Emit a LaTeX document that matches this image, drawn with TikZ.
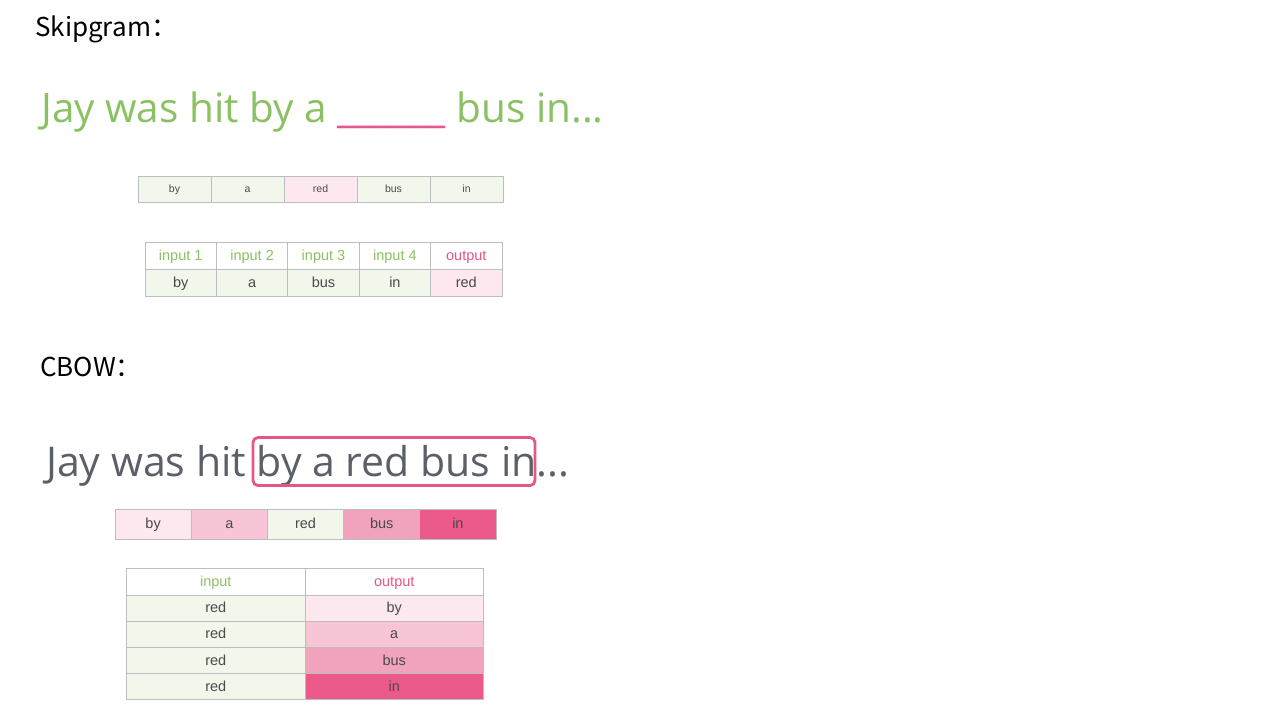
\documentclass[tikz,border=0pt]{standalone}
\usepackage{fontspec}
\setmainfont{Liberation Sans}
\newfontfamily\cjk{Noto Sans CJK SC}
\newfontfamily\opens{Open Sans}
\definecolor{sgreen}{HTML}{8BC163}
\definecolor{spink}{HTML}{E8558A}
\definecolor{sgray}{HTML}{5B6068}
\definecolor{ctext}{HTML}{4A4A4A}
\definecolor{bgray}{HTML}{BDBDBD}
\definecolor{fgreen}{HTML}{F2F7EC}
\definecolor{pinkA}{HTML}{FCE8EE}
\definecolor{pinkB}{HTML}{F8C5D6}
\definecolor{pinkC}{HTML}{F1A3BD}
\definecolor{pinkD}{HTML}{EB5A8B}
\begin{document}
\begin{tikzpicture}[x=1pt,y=-1pt,
  cell/.style={draw=bgray, line width=0.9pt, inner sep=0pt, anchor=center, text=ctext},
  tA/.style={cell, minimum width=73pt, minimum height=26pt, text height=9pt, text depth=1.6pt, font=\fontsize{10.5}{12}\selectfont},
  tB/.style={cell, minimum width=71.4pt, minimum height=27pt, text height=11pt, text depth=2pt, font=\fontsize{14.5}{16}\selectfont},
  tC/.style={cell, minimum width=76.2pt, minimum height=30pt, text height=11pt, text depth=2pt, font=\fontsize{14.5}{16}\selectfont},
  tD/.style={cell, minimum width=178.5pt, minimum height=26.2pt, text height=11pt, text depth=2pt, font=\fontsize{14.5}{16}\selectfont},
  title/.style={anchor=base west, inner sep=0pt, font=\cjk\fontsize{26}{30}\selectfont, text=black},
  sent/.style={anchor=base west, inner sep=0pt}]
\useasboundingbox (0,0) rectangle (1269,728);
\fill[white] (0,0) rectangle (1269,728);

% Skipgram
\node[title] (skt) at (35,36) {Skipgram：};
\node[sent, text=sgreen, font=\opens\fontsize{40.5}{46}\selectfont] (s1) at (41,122) {Jay was hit by a \textcolor{spink}{\_\_\_\_\_\_} bus in...};

\node[tA, fill=fgreen] (a1) at (174.5,189) {by};
\node[tA, fill=fgreen] (a2) at (247.5,189) {a};
\node[tA, fill=pinkA]  (a3) at (320.5,189) {red};
\node[tA, fill=fgreen] (a4) at (393.5,189) {bus};
\node[tA, fill=fgreen] (a5) at (466.5,189) {in};

\node[tB, fill=white, text=sgreen] (b1) at (180.7,255.5) {input 1};
\node[tB, fill=white, text=sgreen] (b2) at (252.1,255.5) {input 2};
\node[tB, fill=white, text=sgreen] (b3) at (323.5,255.5) {input 3};
\node[tB, fill=white, text=sgreen] (b4) at (394.9,255.5) {input 4};
\node[tB, fill=white, text=spink]  (b5) at (466.3,255.5) {output};
\node[tB, fill=fgreen] (c1) at (180.7,282.5) {by};
\node[tB, fill=fgreen] (c2) at (252.1,282.5) {a};
\node[tB, fill=fgreen] (c3) at (323.5,282.5) {bus};
\node[tB, fill=fgreen] (c4) at (394.9,282.5) {in};
\node[tB, fill=pinkA]  (c5) at (466.3,282.5) {red};

% CBOW
\node[title] (cbt) at (40,376) {CBOW：};
\node[sent, text=sgray, font=\opens\fontsize{41}{47}\selectfont] (s2) at (46,476) {Jay was hit by a red bus in...};
\node[draw=spink, line width=2.8pt, rounded corners=5pt, minimum width=282pt, minimum height=48pt, inner sep=0pt] (hl) at (394,461.5) {};

\node[tC, fill=pinkA]  (d1) at (153.1,524) {by};
\node[tC, fill=pinkB]  (d2) at (229.3,524) {a};
\node[tC, fill=fgreen] (d3) at (305.5,524) {red};
\node[tC, fill=pinkC]  (d4) at (381.7,524) {bus};
\node[tC, fill=pinkD]  (d5) at (457.9,524) {in};

\node[tD, fill=white, text=sgreen] (e0) at (215.75,582) {input};
\node[tD, fill=white, text=spink]  (f0) at (394.25,582) {output};
\node[tD, fill=fgreen] (e1) at (215.75,608.2) {red};
\node[tD, fill=fgreen] (e2) at (215.75,634.4) {red};
\node[tD, fill=fgreen] (e3) at (215.75,660.6) {red};
\node[tD, fill=fgreen] (e4) at (215.75,686.8) {red};
\node[tD, fill=pinkA] (f1) at (394.25,608.2) {by};
\node[tD, fill=pinkB] (f2) at (394.25,634.4) {a};
\node[tD, fill=pinkC] (f3) at (394.25,660.6) {bus};
\node[tD, fill=pinkD] (f4) at (394.25,686.8) {in};
\end{tikzpicture}
\end{document}
